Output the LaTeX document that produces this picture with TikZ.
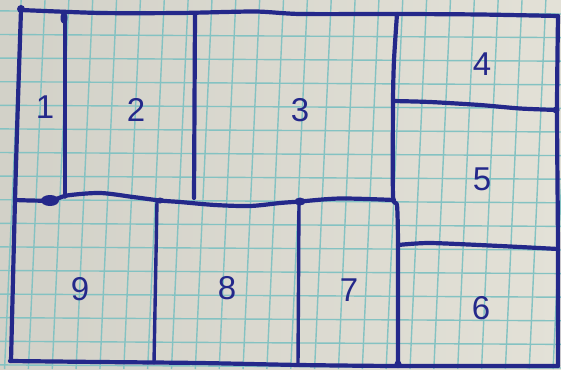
\documentclass[tikz,border=0pt]{standalone}
\usepackage{fontspec}
\setmainfont{Liberation Sans}
\definecolor{paper}{RGB}{227,225,215}
\definecolor{paperdark}{RGB}{210,209,200}
\definecolor{gridc}{RGB}{132,194,194}
\definecolor{pen}{RGB}{36,40,138}
\tikzset{
  wall/.style={draw=pen, line width=4.2pt, line cap=round, line join=round},
  thinwall/.style={draw=pen, line width=3.4pt, line cap=round, line join=round},
  gridline/.style={draw=gridc, line width=1.4pt},
  lab/.style={text=pen, font=\fontsize{33}{33}\selectfont, inner sep=0pt}
}
\begin{document}
\begin{tikzpicture}[x=1pt,y=-1pt]
\useasboundingbox (0,0) rectangle (561,369);
\shade[left color=paperdark, right color=paper] (0,0) rectangle (561,369);
\begin{scope}
\clip (0,0) rectangle (561,369);
\foreach \k in {-1,...,23} {
  \draw[gridline] ({45+23.85*\k},0) -- ({45+23.85*\k-0.045*369},369);
}
\foreach \k in {-2,...,15} {
  \draw[gridline] (0,{34.5+23.6*\k}) -- (561,{34.5+23.6*\k+0.0055*561});
}
\end{scope}
% outer border
\draw[wall] plot[smooth, tension=0.4] coordinates {(21,10) (100,13) (180,13) (255,11.5) (300,14) (400,14) (480,14.5) (558,16)};
\draw[wall] plot[smooth, tension=0.4] coordinates {(558,16) (557,110) (558,250) (558,366)};
\draw[wall] plot[smooth, tension=0.4] coordinates {(10,361) (100,362) (200,363) (300,365) (398,366) (558,366)};
\draw[wall] plot[smooth, tension=0.4] coordinates {(21,10) (18,100) (15,200) (11,361)};
% upper verticals
\draw[thinwall] (65,16) -- (65,197);
\draw[wall] (195,14) -- (194,198);
\draw[wall] plot[smooth, tension=0.4] coordinates {(397,14) (394,60) (393,101) (393,196) (397,205) (398,245) (398,366)};
% middle horizontal
\draw[wall] plot[smooth, tension=0.5] coordinates {(15,200) (50,200.5) (67,195.5) (100,193) (133,197) (160,200.5) (180,202) (215,205) (250,206) (280,203) (300,201.5) (340,198.5) (394,200)};
% lower verticals
\draw[thinwall] (157,201) -- (154,363);
\draw[thinwall] (299,202) -- (298,365);
% right side horizontals
\draw[wall] plot[smooth, tension=0.4] coordinates {(393,101) (430,102) (480,105) (520,108.5) (557,110)};
\draw[wall] plot[smooth, tension=0.4] coordinates {(398,245) (430,243) (500,246) (558,249)};
% ink blobs
\fill[pen] (50,200.5) ellipse [x radius=9pt, y radius=5.5pt];
\fill[pen] (300,201.5) ellipse [x radius=5.5pt, y radius=4pt];
\fill[pen] (160,200.5) ellipse [x radius=4pt, y radius=3pt];
\fill[pen] (21,9) circle [radius=4pt];
\fill[pen] (64,18) ellipse [x radius=3.5pt, y radius=6pt];
\fill[pen] (556,110) circle [radius=3.5pt];
\fill[pen] (398,364) circle [radius=3.5pt];
% labels
\node[lab] (n1) at (45,107) {1};
\node[lab] (n2) at (136,110) {2};
\node[lab] (n3) at (300,110) {3};
\node[lab] (n4) at (482,64) {4};
\node[lab] (n5) at (482,179) {5};
\node[lab] (n6) at (481,308) {6};
\node[lab] (n7) at (349,290) {7};
\node[lab] (n8) at (227,288) {8};
\node[lab] (n9) at (80,289) {9};
\end{tikzpicture}
\end{document}
